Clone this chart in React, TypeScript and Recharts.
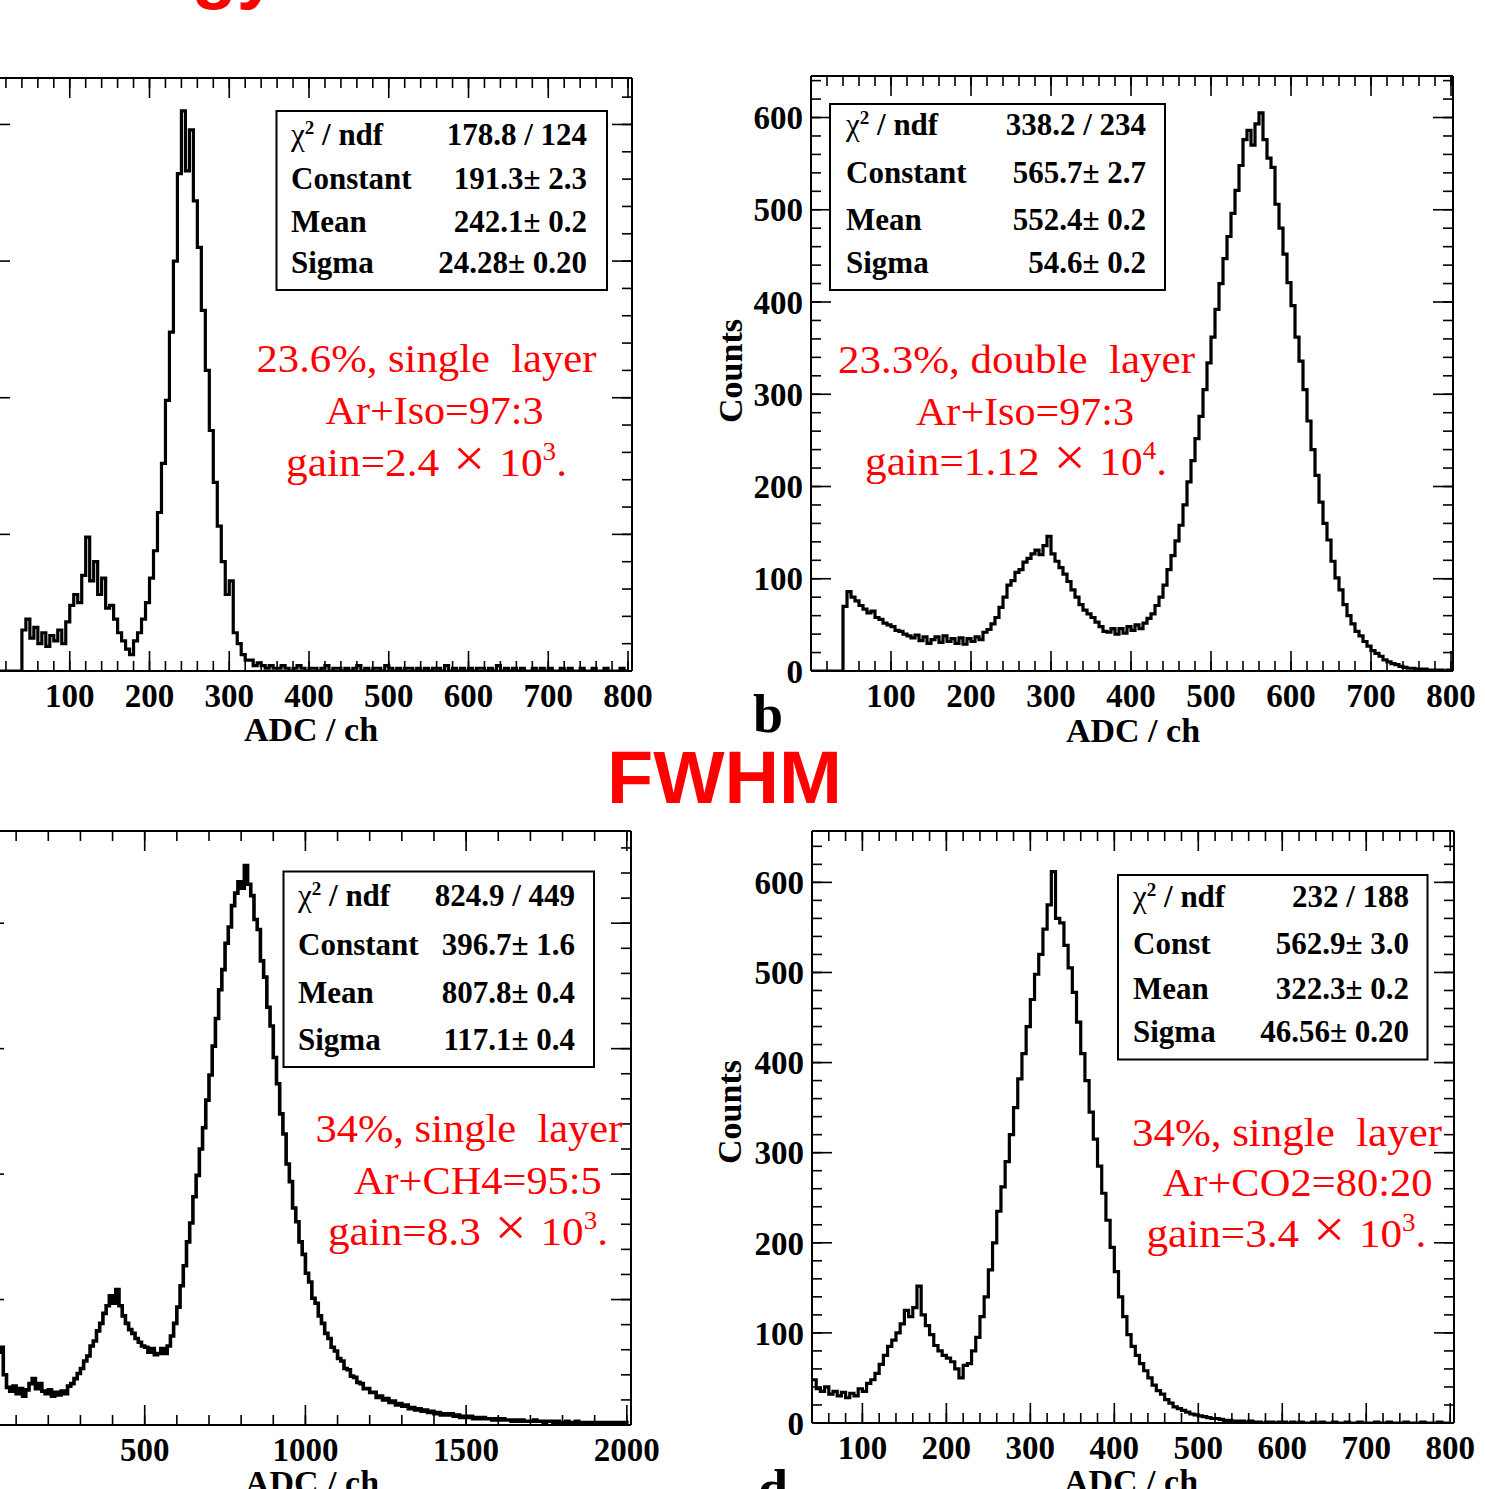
import React from 'react'
import { LineChart, Line, XAxis, YAxis } from 'recharts'

const SERIF = '"Liberation Serif", "Times New Roman", Times, serif'
const SANS = '"Liberation Sans", Arial, Helvetica, sans-serif'
const RED = '#ff0000'

// ---------- histogram contents (counts per bin) ----------
// panel a: bins of 5 ADC starting at 0
const binStartA = 0
const binWidthA = 5
const countsA = [
  0, 0, 0, 0, 0, 0, 0, 0, 15, 19,
  12, 16, 10, 14, 9, 13, 11, 15, 10, 18,
  24, 28, 25, 35, 49, 33, 40, 28, 34, 23,
  24, 19, 14, 11, 8, 6, 11, 14, 19, 25,
  34, 44, 58, 76, 99, 124, 150, 182, 205, 183,
  198, 172, 155, 132, 110, 88, 69, 53, 40, 28,
  33, 14, 10, 6, 4, 4, 2, 3, 2, 1,
  2, 1, 1, 2, 1, 0, 1, 2, 1, 0,
  1, 1, 0, 1, 2, 0, 1, 1, 0, 1,
  0, 1, 2, 0, 1, 0, 1, 1, 0, 2,
  1, 0, 1, 0, 1, 1, 0, 1, 0, 1,
  0, 1, 1, 0, 2, 0, 1, 0, 1, 0,
  1, 0, 1, 1, 0, 1, 0, 2, 0, 1,
  0, 1, 0, 1, 0, 0, 1, 0, 1, 0,
  1, 0, 0, 1, 0, 1, 0, 0, 1, 0,
  0, 1, 0, 0, 1, 0, 0, 0, 1, 0,
  0,
]

// panel b: bins of 5 ADC starting at 0
const binStartB = 0
const binWidthB = 5
const countsB = [
  0, 0, 0, 0, 0, 0, 0, 0, 70, 86,
  80, 76, 71, 67, 63, 65, 58, 56, 52, 50,
  48, 44, 43, 40, 38, 36, 39, 33, 37, 30,
  34, 37, 31, 38, 32, 35, 30, 36, 29, 35,
  32, 37, 34, 42, 45, 51, 58, 69, 80, 93,
  98, 107, 110, 118, 122, 127, 131, 126, 136, 146,
  127, 119, 112, 105, 97, 88, 80, 72, 66, 62,
  58, 53, 48, 43, 42, 46, 40, 46, 41, 48,
  44, 50, 46, 52, 57, 62, 71, 80, 93, 110,
  125, 141, 158, 180, 205, 228, 252, 276, 305, 334,
  362, 392, 420, 447, 471, 496, 521, 548, 576, 586,
  570, 593, 605, 576, 556, 546, 506, 480, 452, 421,
  396, 362, 336, 305, 271, 240, 212, 183, 160, 142,
  119, 101, 88, 72, 60, 51, 43, 38, 32, 27,
  22, 19, 16, 12, 10, 8, 7, 5, 4, 3,
  3, 2, 2, 2, 1, 1, 1, 1, 0, 1,
  0,
]

// panel c: bins of 10 ADC starting at 0
const binStartC = 0
const binWidthC = 10
const countsC = [
  0, 0, 0, 0, 58, 62, 40, 30, 27, 31,
  25, 29, 23, 28, 33, 37, 29, 33, 27, 25,
  28, 23, 26, 24, 27, 25, 31, 33, 37, 41,
  45, 51, 55, 63, 67, 75, 81, 89, 95, 103,
  97, 108, 95, 87, 81, 76, 73, 69, 66, 63,
  62, 58, 61, 56, 57, 61, 57, 63, 71, 81,
  94, 111, 127, 146, 161, 182, 199, 220, 237, 259,
  279, 302, 324, 347, 363, 384, 397, 414, 424, 433,
  428, 446, 431, 422, 403, 395, 370, 357, 333, 318,
  293, 272, 248, 232, 208, 194, 173, 162, 146, 136,
  121, 114, 101, 97, 87, 81, 73, 69, 62, 59,
  53, 51, 45, 44, 39, 38, 34, 33, 29, 29,
  26, 26, 22, 23, 20, 21, 18, 19, 16, 17,
  15, 16, 13, 14, 12, 13, 11, 12, 10, 11,
  9, 10, 8, 9, 8, 9, 7, 8, 6, 7,
  6, 7, 5, 6, 5, 6, 5, 5, 4, 5,
  4, 5, 4, 4, 3, 4, 3, 4, 3, 3,
  3, 4, 3, 3, 2, 3, 3, 2, 3, 2,
  2, 3, 2, 2, 3, 2, 2, 1, 2, 2,
  2, 1, 2, 2, 1, 2, 1, 2, 1, 2,
  1,
]

// panel d: bins of 5 ADC starting at 40
const binStartD = 40
const binWidthD = 5
const countsD = [
  48, 38, 35, 40, 32, 35, 30, 34, 28, 33,
  30, 38, 35, 44, 48, 55, 65, 75, 85, 92,
  100, 110, 125, 118, 128, 152, 120, 108, 98, 86,
  80, 75, 72, 68, 60, 50, 64, 66, 80, 95,
  118, 140, 170, 200, 235, 262, 290, 320, 350, 382,
  410, 440, 470, 498, 520, 548, 575, 612, 560, 555,
  530, 505, 478, 445, 410, 380, 345, 315, 285, 255,
  225, 195, 168, 140, 118, 98, 85, 75, 66, 58,
  50, 42, 36, 32, 26, 22, 18, 16, 14, 12,
  10, 9, 8, 7, 6, 5, 5, 4, 3, 3,
  2, 2, 2, 1, 2, 1, 1, 0, 1, 1,
  0, 1, 1, 0, 1, 0, 1, 0, 0, 1,
  0, 1, 0, 0, 1, 0, 0, 1, 0, 0,
  1, 0, 0, 0, 1, 0, 0, 1, 0, 0,
  0, 1, 0, 0, 0, 1, 0, 0, 0, 1,
  0, 0, 0,
]

// ---------- tick labels ----------
const adcLabels800 = [100, 200, 300, 400, 500, 600, 700, 800]
const adcMajor800 = [0, 100, 200, 300, 400, 500, 600, 700, 800]
const adcLabels2000 = [500, 1000, 1500, 2000]
const adcMajor2000 = [0, 500, 1000, 1500, 2000]
const countMajorA = [0, 50, 100, 150, 200]
const countLabels600 = [0, 100, 200, 300, 400, 500, 600]
const countMajorC = [0, 100, 200, 300, 400]

const steps = (from: number, to: number, step: number) => {
  const out: number[] = []
  for (let v = from; v <= to + 1e-6; v += step) out.push(v)
  return out
}

const toBins = (start: number, width: number, counts: number[]) =>
  counts.map((y, i) => ({ x: start + i * width, y }))

type Frame = { l: number; r: number; t: number; b: number }

interface PanelProps {
  frame: Frame
  xDomain: [number, number]
  yDomain: [number, number]
  xLabels: number[]
  xMajor: number[]
  xMinor: number[]
  yLabels: number[]
  yMajor: number[]
  yMinor: number[]
  data: { x: number; y: number }[]
  lineWidth: number
}

const YW = 100
const XH = 70
const PAD = 12
const PAD_R = 45
const MAJOR = 20
const MINOR = 10
const THIN = 0.001 // mirrored tick axes take (almost) no room

const Blank = () => <g />

function Panel(p: PanelProps) {
  const w = p.frame.r - p.frame.l
  const h = p.frame.b - p.frame.t
  const tickFont = { fontFamily: SERIF, fontWeight: 700, fontSize: 33, fill: '#000' }
  const frameLine = { stroke: '#000', strokeWidth: 2 }
  const tickLine = { stroke: '#000', strokeWidth: 1.6 }
  const xc = {
    dataKey: 'x',
    type: 'number' as const,
    domain: p.xDomain,
    allowDataOverflow: true,
    interval: 0 as const,
  }
  const yc = {
    dataKey: 'y',
    type: 'number' as const,
    domain: p.yDomain,
    allowDataOverflow: true,
    interval: 0 as const,
  }
  return (
    <div style={{ position: 'absolute', left: p.frame.l - YW, top: p.frame.t - PAD }}>
      <LineChart
        width={YW + w + PAD_R}
        height={PAD + h + XH}
        data={p.data}
        margin={{ top: PAD, right: PAD_R, bottom: 0, left: 0 }}
      >
        <XAxis {...xc} xAxisId="main" orientation="bottom" height={XH} ticks={p.xLabels}
          tickLine={false} axisLine={frameLine} tickSize={0} tickMargin={13} tick={tickFont} />
        <XAxis {...xc} xAxisId="bMaj" orientation="bottom" mirror height={THIN} ticks={p.xMajor}
          tickSize={MAJOR} tickLine={tickLine} axisLine={false} tick={Blank} />
        <XAxis {...xc} xAxisId="bMin" orientation="bottom" mirror height={THIN} ticks={p.xMinor}
          tickSize={MINOR} tickLine={tickLine} axisLine={false} tick={Blank} />
        <XAxis {...xc} xAxisId="tMaj" orientation="top" mirror height={THIN} ticks={p.xMajor}
          tickSize={MAJOR} tickLine={tickLine} axisLine={frameLine} tick={Blank} />
        <XAxis {...xc} xAxisId="tMin" orientation="top" mirror height={THIN} ticks={p.xMinor}
          tickSize={MINOR} tickLine={tickLine} axisLine={false} tick={Blank} />

        <YAxis {...yc} yAxisId="main" orientation="left" width={YW} ticks={p.yLabels}
          tickLine={false} axisLine={frameLine} tickSize={0} tickMargin={8}
          tick={p.yLabels.length ? tickFont : Blank} />
        <YAxis {...yc} yAxisId="lMaj" orientation="left" mirror width={THIN} ticks={p.yMajor}
          tickSize={MAJOR} tickLine={tickLine} axisLine={false} tick={Blank} />
        <YAxis {...yc} yAxisId="lMin" orientation="left" mirror width={THIN} ticks={p.yMinor}
          tickSize={MINOR} tickLine={tickLine} axisLine={false} tick={Blank} />
        <YAxis {...yc} yAxisId="rMaj" orientation="right" mirror width={THIN} ticks={p.yMajor}
          tickSize={MAJOR} tickLine={tickLine} axisLine={frameLine} tick={Blank} />
        <YAxis {...yc} yAxisId="rMin" orientation="right" mirror width={THIN} ticks={p.yMinor}
          tickSize={MINOR} tickLine={tickLine} axisLine={false} tick={Blank} />

        <Line
          xAxisId="main"
          yAxisId="main"
          dataKey="y"
          type="stepAfter"
          stroke="#000"
          strokeWidth={p.lineWidth}
          dot={false}
          activeDot={false}
          isAnimationActive={false}
        />
      </LineChart>
    </div>
  )
}

// ---------- fit boxes and notes ----------
interface StatBoxProps {
  x: number
  y: number
  w: number
  h: number
  labelX: number
  valueX: number
  baselines: number[]
  rows: [string, string][]
}

function StatBox({ x, y, w, h, labelX, valueX, baselines, rows }: StatBoxProps) {
  const font = { fontFamily: SERIF, fontWeight: 700, fontSize: 31, fill: '#000' }
  return (
    <g>
      <rect x={x} y={y} width={w} height={h} fill="#fff" stroke="#000" strokeWidth={2} />
      {rows.map(([label, value], i) => (
        <g key={i}>
          {i === 0 ? (
            <text x={labelX} y={baselines[i]} {...font}>
              <tspan fontWeight={400}>χ</tspan>
              <tspan dy={-11} fontSize={19}>2</tspan>
              <tspan dy={11}>{' / ndf'}</tspan>
            </text>
          ) : (
            <text x={labelX} y={baselines[i]} {...font}>{label}</text>
          )}
          <text x={valueX} y={baselines[i]} textAnchor="end" {...font} style={{ whiteSpace: 'pre' }}>
            {value}
          </text>
        </g>
      ))}
    </g>
  )
}

interface NoteLine {
  x: number
  y: number
  w: number
  text: string
  mant?: string
  sup?: string
}

function Note({ lines }: { lines: NoteLine[] }) {
  return (
    <g>
      {lines.map((l, i) => (
        <text
          key={i}
          x={l.x}
          y={l.y}
          textLength={l.w}
          lengthAdjust="spacingAndGlyphs"
          fontFamily={SERIF}
          fontSize={40}
          fill={RED}
          style={{ whiteSpace: 'pre' }}
        >
          {l.text}
          {l.sup ? (
            <>
              <tspan fontSize={52} fontWeight={300}>{' × '}</tspan>
              <tspan>10</tspan>
              <tspan dy={-16} fontSize={25}>{l.sup}</tspan>
              <tspan dy={16}>.</tspan>
            </>
          ) : null}
        </text>
      ))}
    </g>
  )
}

const statsA: [string, string][] = [
  ['χ2 / ndf', '178.8 / 124'],
  ['Constant', '191.3± 2.3'],
  ['Mean', '242.1± 0.2'],
  ['Sigma', '24.28± 0.20'],
]
const statsB: [string, string][] = [
  ['χ2 / ndf', '338.2 / 234'],
  ['Constant', '565.7± 2.7'],
  ['Mean', '552.4± 0.2'],
  ['Sigma', '54.6± 0.2'],
]
const statsC: [string, string][] = [
  ['χ2 / ndf', '824.9 / 449'],
  ['Constant', '396.7± 1.6'],
  ['Mean', '807.8± 0.4'],
  ['Sigma', '117.1± 0.4'],
]
const statsD: [string, string][] = [
  ['χ2 / ndf', '232 / 188'],
  ['Const', '562.9± 3.0'],
  ['Mean', '322.3± 0.2'],
  ['Sigma', '46.56± 0.20'],
]

function Overlay() {
  const axisTitle = { fontFamily: SERIF, fontWeight: 700, fontSize: 34, fill: '#000' }
  return (
    <svg
      width={1485}
      height={1489}
      style={{ position: 'absolute', left: 0, top: 0, pointerEvents: 'none', overflow: 'hidden' }}
    >
      {/* page title, cut off at the top edge */}
      <text x={278} y={-5} textAnchor="end" fontFamily={SANS} fontWeight={700} fontSize={74} fill={RED}>
        Energy
      </text>
      <text x={607} y={803} textLength={235} lengthAdjust="spacingAndGlyphs"
        fontFamily={SANS} fontWeight={700} fontSize={74} fill={RED}>
        FWHM
      </text>

      <text x={753} y={732} fontFamily={SERIF} fontWeight={700} fontSize={54} fill="#000">b</text>
      <text x={758} y={1507} fontFamily={SERIF} fontWeight={700} fontSize={54} fill="#000">d</text>

      <text x={311} y={741} textAnchor="middle" {...axisTitle}>ADC / ch</text>
      <text x={1133} y={742} textAnchor="middle" {...axisTitle}>ADC / ch</text>
      <text x={312} y={1494} textAnchor="middle" {...axisTitle}>ADC / ch</text>
      <text x={1131} y={1493} textAnchor="middle" {...axisTitle}>ADC / ch</text>

      <text x={730} y={371} textAnchor="middle" dominantBaseline="central"
        transform="rotate(-90 730 371)" {...axisTitle}>Counts</text>
      <text x={729} y={1112} textAnchor="middle" dominantBaseline="central"
        transform="rotate(-90 729 1112)" {...axisTitle}>Counts</text>

      <StatBox x={276.5} y={111} w={330.5} h={179} labelX={291} valueX={587}
        baselines={[145, 189, 232, 273]} rows={statsA} />
      <StatBox x={830} y={104} w={335} h={186} labelX={846} valueX={1146}
        baselines={[135, 183, 230, 273]} rows={statsB} />
      <StatBox x={283.5} y={871.5} w={310.5} h={195.5} labelX={298} valueX={575}
        baselines={[906, 955, 1003, 1050]} rows={statsC} />
      <StatBox x={1118} y={875} w={309.5} h={184.5} labelX={1133} valueX={1409}
        baselines={[907, 954, 998.5, 1042]} rows={statsD} />

      <Note lines={[
        { x: 256.5, y: 372, w: 340, text: '23.6%, single  layer' },
        { x: 325.6, y: 424, w: 218, text: 'Ar+Iso=97:3' },
        { x: 286, y: 476, w: 281, text: 'gain=2.4', sup: '3' },
      ]} />
      <Note lines={[
        { x: 838, y: 373, w: 357, text: '23.3%, double  layer' },
        { x: 916, y: 425, w: 218, text: 'Ar+Iso=97:3' },
        { x: 865, y: 475, w: 302, text: 'gain=1.12', sup: '4' },
      ]} />
      <Note lines={[
        { x: 315.4, y: 1142, w: 307, text: '34%, single  layer' },
        { x: 353.8, y: 1194, w: 248, text: 'Ar+CH4=95:5' },
        { x: 328, y: 1245, w: 280, text: 'gain=8.3', sup: '3' },
      ]} />
      <Note lines={[
        { x: 1132, y: 1146, w: 310, text: '34%, single  layer' },
        { x: 1162.5, y: 1196, w: 270, text: 'Ar+CO2=80:20' },
        { x: 1146.4, y: 1247, w: 280, text: 'gain=3.4', sup: '3' },
      ]} />
    </svg>
  )
}

export default function App() {
  return (
    <div
      style={{
        position: 'absolute',
        left: 0,
        top: 0,
        width: 1485,
        height: 1489,
        overflow: 'hidden',
        background: '#fff',
      }}
    >
      <Panel
        frame={{ l: -10, r: 632, t: 78, b: 671 }}
        xDomain={[0, 805]}
        yDomain={[0, 217]}
        xLabels={adcLabels800}
        xMajor={adcMajor800}
        xMinor={steps(0, 805, 20)}
        yLabels={[]}
        yMajor={countMajorA}
        yMinor={steps(0, 217, 10)}
        data={toBins(binStartA, binWidthA, countsA)}
        lineWidth={3.2}
      />
      <Panel
        frame={{ l: 811, r: 1453, t: 76, b: 671 }}
        xDomain={[0, 802.5]}
        yDomain={[0, 645]}
        xLabels={adcLabels800}
        xMajor={adcMajor800}
        xMinor={steps(0, 802, 20)}
        yLabels={countLabels600}
        yMajor={countLabels600}
        yMinor={steps(0, 645, 20)}
        data={toBins(binStartB, binWidthB, countsB)}
        lineWidth={3.2}
      />
      <Panel
        frame={{ l: -16, r: 631, t: 831, b: 1425 }}
        xDomain={[0, 2013]}
        yDomain={[0, 473.5]}
        xLabels={adcLabels2000}
        xMajor={adcMajor2000}
        xMinor={steps(0, 2013, 100)}
        yLabels={[]}
        yMajor={countMajorC}
        yMinor={steps(0, 473, 20)}
        data={toBins(binStartC, binWidthC, countsC)}
        lineWidth={3.6}
      />
      <Panel
        frame={{ l: 812, r: 1454, t: 831, b: 1423 }}
        xDomain={[40, 804.5]}
        yDomain={[0, 657]}
        xLabels={adcLabels800}
        xMajor={adcLabels800}
        xMinor={steps(40, 804, 20)}
        yLabels={countLabels600}
        yMajor={countLabels600}
        yMinor={steps(0, 657, 20)}
        data={toBins(binStartD, binWidthD, countsD)}
        lineWidth={3.2}
      />
      <Overlay />
    </div>
  )
}
